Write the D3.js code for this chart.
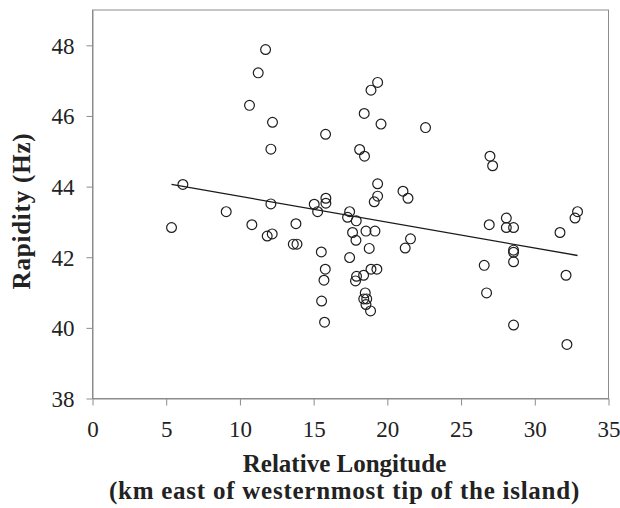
<!DOCTYPE html>
<html>
<head>
<meta charset="utf-8">
<script src="https://cdn.jsdelivr.net/npm/d3@7"></script>
<style>
  html, body { margin: 0; padding: 0; background: #fff; }
  svg { display: block; }
  .ser { font-family: "Liberation Serif", "Tinos", "Noto Serif", "FreeSerif", "Times New Roman", Times, "DejaVu Serif", serif; }
</style>
</head>
<body>
<div id="chart"></div>
<script>
// Relative longitude (km east of westernmost tip) for each observation
const longitudes = [
  11.74, 11.24, 10.65, 12.21, 12.10, 15.81, 6.13, 12.10, 15.04, 15.83,
  15.83, 19.34, 18.89, 18.43, 19.57, 22.59, 18.12, 18.45, 26.96, 27.14,
  19.34, 19.34, 19.11, 21.06, 21.40, 5.36, 9.07, 10.81, 11.85, 12.19,
  13.80, 13.62, 13.87, 15.52, 15.79, 15.70, 15.54, 15.74, 15.27, 17.44,
  17.30, 17.89, 17.64, 17.87, 18.55, 19.16, 18.77, 17.44, 17.91, 17.84,
  18.39, 18.89, 19.29, 18.50, 18.40, 18.60, 18.55, 18.86, 21.57, 21.21,
  26.91, 28.07, 28.07, 28.56, 28.56, 28.56, 28.56, 26.57, 26.73, 28.56,
  31.71, 32.90, 32.73, 32.12, 32.18
];
// Rapidity (Hz) for each observation
const rapidities = [
  47.88, 47.22, 46.30, 45.82, 45.06, 45.48, 44.06, 43.51, 43.50, 43.67,
  43.53, 46.95, 46.73, 46.07, 45.77, 45.67, 45.05, 44.86, 44.86, 44.59,
  44.08, 43.73, 43.57, 43.87, 43.67, 42.84, 43.29, 42.92, 42.60, 42.66,
  42.95, 42.37, 42.37, 42.15, 41.66, 41.35, 40.76, 40.16, 43.29, 43.29,
  43.13, 43.03, 42.70, 42.48, 42.74, 42.74, 42.25, 41.99, 41.46, 41.33,
  41.49, 41.66, 41.66, 40.99, 40.82, 40.82, 40.66, 40.48, 42.52, 42.26,
  42.92, 43.11, 42.84, 42.84, 42.20, 42.14, 41.87, 41.77, 40.99, 40.08,
  42.70, 43.29, 43.11, 41.49, 39.53
];
// Linear trend line (slope / intercept)
const trendSlope = -0.0731;
const trendIntercept = 44.454;

const xTicks = [0, 5, 10, 15, 20, 25, 30, 35];
const yTicks = [38, 40, 42, 44, 46, 48];
const xDomain = [0, 35];
const yDomain = [38, 49];
const xTitle1 = "Relative Longitude";
const xTitle2 = "(km east of westernmost tip of the island)";
const yTitle = "Rapidity (Hz)";

const W = 620, H = 508;
const margin = { left: 92.5, right: 11.5, top: 10, bottom: 109.5 };

const svg = d3.select("#chart").append("svg")
  .attr("width", W).attr("height", H);

const x = d3.scaleLinear().domain(xDomain).range([margin.left, W - margin.right]);
const y = d3.scaleLinear().domain(yDomain).range([H - margin.bottom, margin.top]);

// frame
svg.append("rect")
  .attr("x", x(xDomain[0])).attr("y", y(yDomain[1]))
  .attr("width", x(xDomain[1]) - x(xDomain[0]))
  .attr("height", y(yDomain[0]) - y(yDomain[1]))
  .attr("fill", "none").attr("stroke", "#8c8c8c").attr("stroke-width", 1);

// axes
const xAxis = svg.append("g")
  .attr("transform", `translate(0,${y(yDomain[0])})`)
  .call(d3.axisBottom(x).tickValues(xTicks).tickSize(7).tickPadding(15).tickSizeOuter(0));
const yAxis = svg.append("g")
  .attr("transform", `translate(${x(xDomain[0])},0)`)
  .call(d3.axisLeft(y).tickValues(yTicks).tickSize(6).tickPadding(12).tickSizeOuter(0));

[xAxis, yAxis].forEach(g => {
  g.attr("font-family", null);
  g.select(".domain").attr("stroke", "#8c8c8c");
  g.selectAll(".tick line").attr("stroke", "#8c8c8c");
  g.selectAll(".tick text")
    .attr("class", "ser")
    .attr("fill", "#222")
    .style("font-size", "23px");
});
yAxis.selectAll(".tick text").attr("dy", "0.34em");

// trend line
const xr = d3.extent(longitudes);
svg.append("line")
  .attr("x1", x(xr[0])).attr("y1", y(trendIntercept + trendSlope * xr[0]))
  .attr("x2", x(xr[1])).attr("y2", y(trendIntercept + trendSlope * xr[1]))
  .attr("stroke", "#1a1a1a").attr("stroke-width", 1.3);

// points
svg.append("g").selectAll("circle")
  .data(longitudes.map((lx, i) => [lx, rapidities[i]]))
  .join("circle")
  .attr("cx", d => x(d[0]))
  .attr("cy", d => y(d[1]))
  .attr("r", 4.9)
  .attr("fill", "none")
  .attr("stroke", "#1e1e1e")
  .attr("stroke-width", 1.2);

// titles
const cx = (x(xDomain[0]) + x(xDomain[1])) / 2 - 6;
svg.append("text")
  .attr("class", "ser")
  .attr("x", cx).attr("y", 472)
  .attr("text-anchor", "middle")
  .style("font-weight", "bold").style("font-size", "25px")
  .attr("fill", "#222")
  .text(xTitle1);
svg.append("text")
  .attr("class", "ser")
  .attr("x", cx).attr("y", 499)
  .attr("text-anchor", "middle")
  .style("font-weight", "bold").style("font-size", "25px")
  .style("letter-spacing", "0.75px")
  .attr("fill", "#222")
  .text(xTitle2);
svg.append("text")
  .attr("class", "ser")
  .attr("transform", `translate(30,211) rotate(-90)`)
  .attr("text-anchor", "middle")
  .style("font-weight", "bold").style("font-size", "25px")
  .style("letter-spacing", "0.8px")
  .attr("fill", "#222")
  .text(yTitle);
</script>
</body>
</html>
